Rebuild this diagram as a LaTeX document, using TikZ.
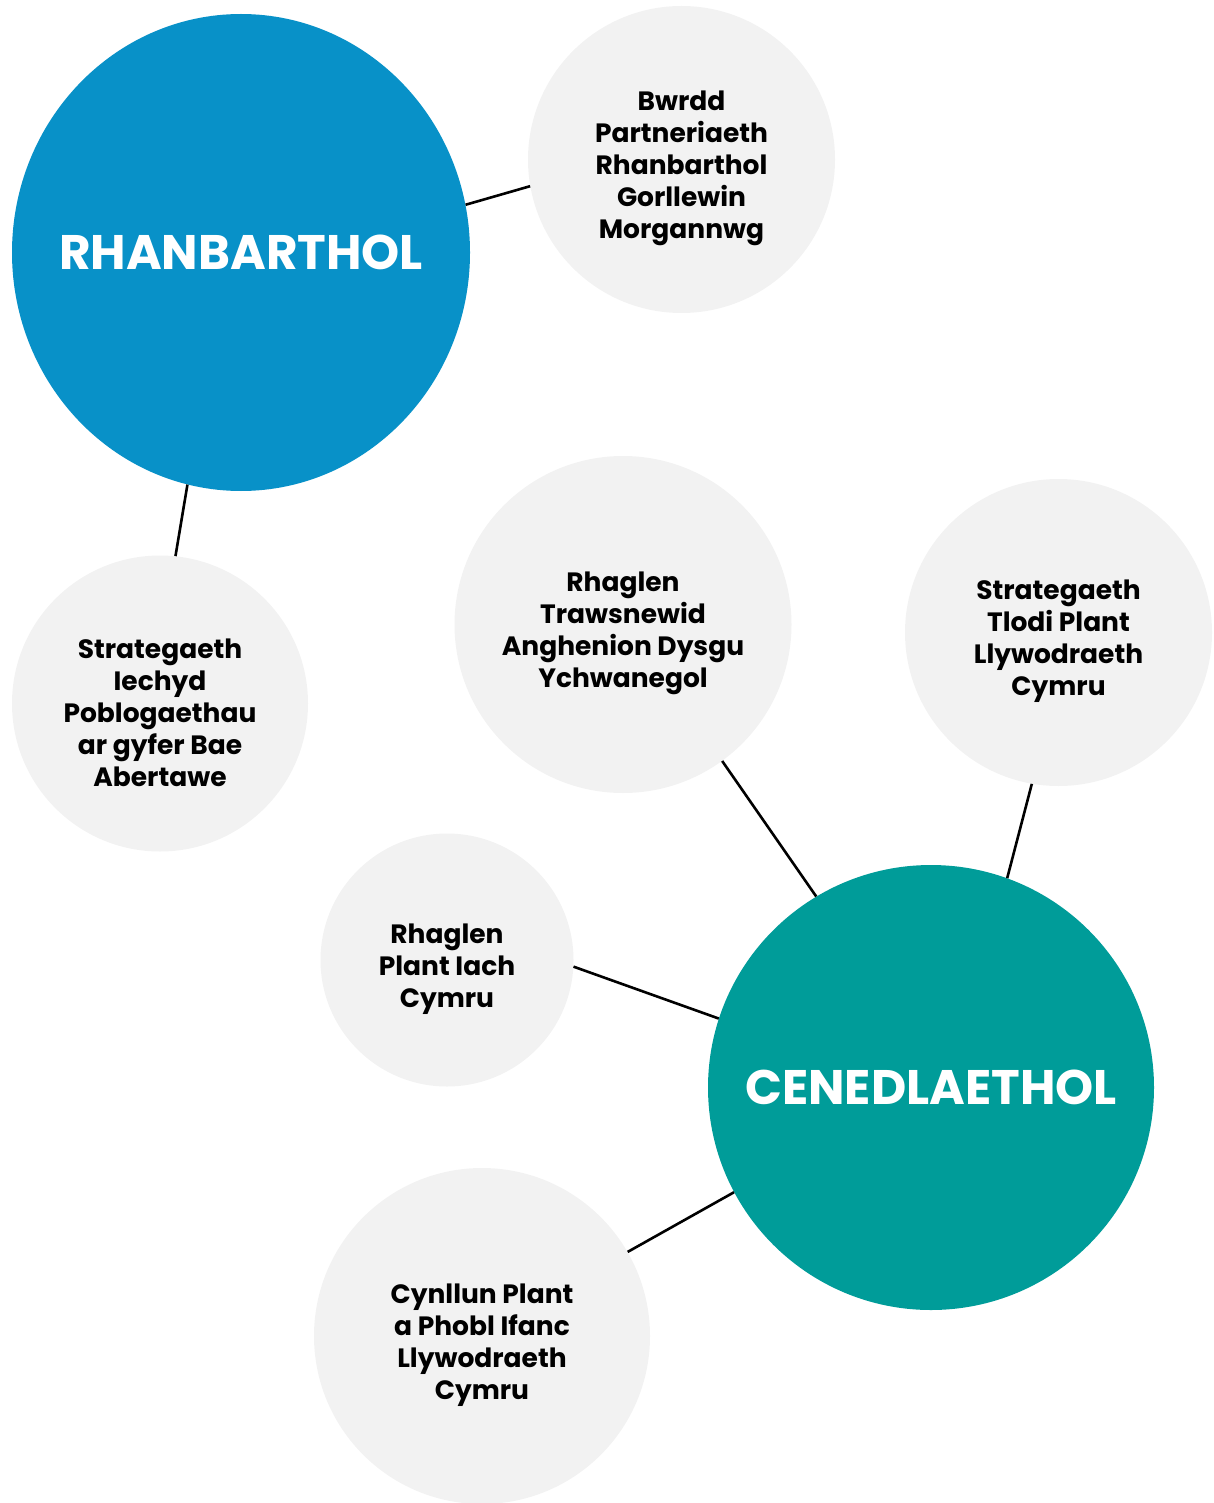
\documentclass[tikz,border=0pt]{standalone}
\usepackage{fontspec}
\setmainfont{Poppins}[UprightFont=* Bold]
\usetikzlibrary{shapes.geometric}
\definecolor{rblue}{HTML}{0891C8}
\definecolor{cteal}{HTML}{009C99}
\definecolor{lgray}{HTML}{F2F2F2}
\tikzset{
  big/.style={ellipse, inner sep=0pt},
  bigtext/.style={text=white, inner sep=0pt, font=\fontsize{48.5}{58}\selectfont},
  small/.style={circle, fill=lgray, inner sep=0pt},
  smalltext/.style={align=center, text=black, inner sep=0pt, yshift=-9pt, font=\fontsize{26.5}{32}\selectfont},
  link/.style={line width=2.6pt, black}
}
\begin{document}
\begin{tikzpicture}[x=1pt,y=-1pt]
\useasboundingbox (0,0) rectangle (1214,1503);
\node[big, fill=rblue, minimum width=458pt, minimum height=477pt] (rh) at (241,252.5) {};
\node[bigtext] (rht) at (rh.center) {RHANBARTHOL};
\node[big, fill=cteal, minimum width=446pt, minimum height=445pt] (ce) at (931,1087.5) {};
\node[bigtext] (cet) at (ce.center) {CENEDLAETHOL};
\node[small, minimum size=307pt, label={[smalltext]center:Bwrdd\\Partneriaeth\\Rhanbarthol\\Gorllewin\\Morgannwg}] (bw) at (681.5,159.5) {};
\node[small, minimum size=296pt, label={[smalltext]center:Strategaeth\\Iechyd\\Poblogaethau\\ar gyfer Bae\\Abertawe}] (ie) at (160,703.5) {};
\node[small, minimum size=337pt, label={[smalltext]center:Rhaglen\\Trawsnewid\\Anghenion Dysgu\\Ychwanegol}] (tr) at (623,624.5) {};
\node[small, minimum size=307pt, label={[smalltext]center:Strategaeth\\Tlodi Plant\\Llywodraeth\\Cymru}] (tl) at (1058.5,632.5) {};
\node[small, minimum size=253pt, label={[smalltext]center:Rhaglen\\Plant Iach\\Cymru}] (pi) at (447,960) {};
\node[small, minimum size=336pt, label={[smalltext]center:Cynllun Plant\\a Phobl Ifanc\\Llywodraeth\\Cymru}] (cy) at (482,1336) {};
\draw[link] (rh.12.2) -- (bw.190.3);
\draw[link] (rh.257.6) -- (ie.84.6);
\draw[link] (tr.-54.2) -- (ce.121.9);
\draw[link] (tl.260) -- (ce.70.3);
\draw[link] (pi.-3) -- (ce.162);
\draw[link] (cy.30.2) -- (ce.208.3);
\end{tikzpicture}
\end{document}
